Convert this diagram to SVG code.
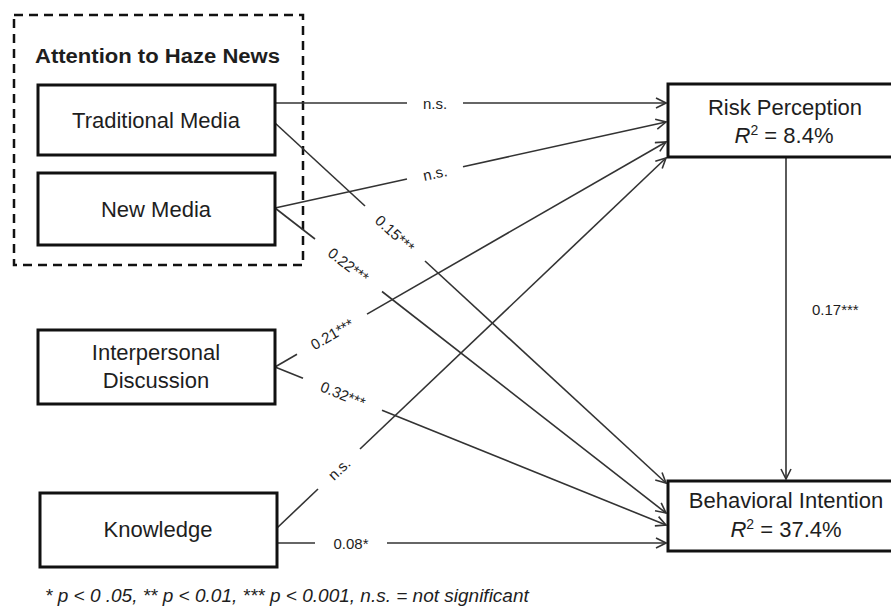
<svg xmlns="http://www.w3.org/2000/svg" width="891" height="614" viewBox="0 0 891 614">
<style>
  text { font-family: "Liberation Sans", Arial, sans-serif; fill: #1e1e1e; }
  .node { fill: #fff; stroke: #111; stroke-width: 3; }
  .nt { font-size: 22px; text-anchor: middle; }
  .lbl { font-size: 15px; text-anchor: middle; dominant-baseline: central; }
  .c { stroke: #333; stroke-width: 1.6; fill: none; }
  .foot { font-size: 19px; font-style: italic; }
</style>
<defs>
  <marker id="arr" markerUnits="userSpaceOnUse" viewBox="0 0 12 12" markerWidth="12" markerHeight="12" refX="11" refY="6" orient="auto">
    <path d="M1,1 L11,6 L1,11" fill="none" stroke="#333" stroke-width="1.6"/>
  </marker>
</defs>
<rect width="891" height="614" fill="#fff"/>

<g id="group-attention">
  <rect x="14" y="15" width="289" height="250" fill="none" stroke="#111" stroke-width="2.5" stroke-dasharray="9 6"/>
  <text x="35" y="63" font-size="20" font-weight="bold" textLength="245" lengthAdjust="spacingAndGlyphs">Attention to Haze News</text>
</g>

<g id="connectors">
  <!-- Traditional -> Risk -->
  <line class="c" x1="275" y1="103" x2="407" y2="103"/>
  <line class="c" x1="463" y1="103" x2="666" y2="103" marker-end="url(#arr)"/>
  <text class="lbl" x="435" y="103">n.s.</text>
  <!-- New -> Risk -->
  <line class="c" x1="275" y1="208" x2="407" y2="179"/>
  <line class="c" x1="463" y1="166.7" x2="666" y2="122" marker-end="url(#arr)"/>
  <text class="lbl" x="435" y="173" transform="rotate(-12 435 173)">n.s.</text>
  <!-- Traditional -> Behavioral -->
  <line class="c" x1="275" y1="123" x2="365" y2="206"/>
  <line class="c" x1="425" y1="261" x2="666" y2="483" marker-end="url(#arr)"/>
  <text class="lbl" x="395" y="233.5" transform="rotate(42.6 395 233.5)">0.15***</text>
  <!-- New -> Behavioral -->
  <line class="c" x1="275" y1="208" x2="315" y2="239"/>
  <line class="c" x1="382" y1="291.5" x2="666" y2="513" marker-end="url(#arr)"/>
  <text class="lbl" x="348.5" y="265" transform="rotate(38 348.5 265)">0.22***</text>
  <!-- Interpersonal -> Risk -->
  <line class="c" x1="275" y1="367" x2="297" y2="354.3"/>
  <line class="c" x1="367" y1="314.1" x2="666" y2="142" marker-end="url(#arr)"/>
  <text class="lbl" x="332" y="334" transform="rotate(-29.9 332 334)">0.21***</text>
  <!-- Interpersonal -> Behavioral -->
  <line class="c" x1="275" y1="367" x2="303" y2="378.3"/>
  <line class="c" x1="382" y1="410.2" x2="666" y2="525" marker-end="url(#arr)"/>
  <text class="lbl" x="343" y="394.5" transform="rotate(22 343 394.5)">0.32***</text>
  <!-- Knowledge -> Risk -->
  <line class="c" x1="277" y1="528" x2="318" y2="489"/>
  <line class="c" x1="360" y1="449" x2="666" y2="158" marker-end="url(#arr)"/>
  <text class="lbl" x="339" y="469" transform="rotate(-43.6 339 469)">n.s.</text>
  <!-- Knowledge -> Behavioral -->
  <line class="c" x1="277" y1="543" x2="315" y2="543"/>
  <line class="c" x1="387" y1="543" x2="666" y2="543" marker-end="url(#arr)"/>
  <text class="lbl" x="351" y="543">0.08*</text>
  <!-- Risk -> Behavioral -->
  <line class="c" x1="786" y1="157" x2="786" y2="479" marker-end="url(#arr)"/>
  <text x="812" y="315" font-size="15">0.17***</text>
</g>

<g id="node-traditional">
  <rect class="node" x="38" y="85" width="237" height="70"/>
  <text class="nt" x="156" y="128">Traditional Media</text>
</g>
<g id="node-new">
  <rect class="node" x="38" y="173" width="237" height="72"/>
  <text class="nt" x="156" y="217">New Media</text>
</g>
<g id="node-interpersonal">
  <rect class="node" x="38" y="330" width="237" height="74"/>
  <text class="nt" x="156" y="360">Interpersonal</text>
  <text class="nt" x="156" y="388">Discussion</text>
</g>
<g id="node-knowledge">
  <rect class="node" x="40" y="493" width="237" height="74"/>
  <text class="nt" x="158" y="537">Knowledge</text>
</g>
<g id="node-risk">
  <rect class="node" x="668" y="84" width="240" height="73"/>
  <text class="nt" x="785" y="115">Risk Perception</text>
  <text class="nt" x="784" y="143"><tspan font-style="italic">R</tspan><tspan font-size="14" dy="-8">2</tspan><tspan dy="8"> = 8.4%</tspan></text>
</g>
<g id="node-behavioral">
  <rect class="node" x="668" y="481" width="240" height="70"/>
  <text class="nt" x="786" y="508">Behavioral Intention</text>
  <text class="nt" x="786" y="537"><tspan font-style="italic">R</tspan><tspan font-size="14" dy="-8">2</tspan><tspan dy="8"> = 37.4%</tspan></text>
</g>

<text class="foot" x="45" y="602">* p &lt; 0 .05, ** p &lt; 0.01, *** p &lt; 0.001, n.s. = not significant</text>
</svg>
